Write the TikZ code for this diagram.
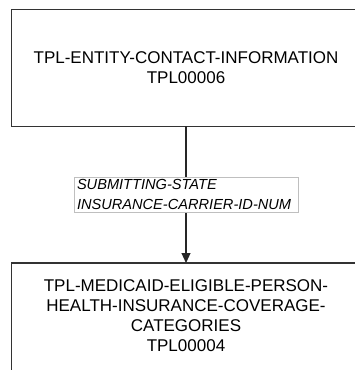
\documentclass[tikz,border=0pt]{standalone}
\usepackage{fontspec}
\setmainfont{Liberation Sans}
\usetikzlibrary{arrows.meta}
\begin{document}
\begin{tikzpicture}[x=1pt,y=1pt,
  entity/.style={minimum width=348pt, align=center,
     font=\fontsize{17}{20}\selectfont, inner xsep=0pt},
  box/.style={draw=black!80, line width=1.3pt},
  rel/.style={draw=black!85, line width=1.1pt, -{Triangle[length=10pt,width=9pt]}},
  lbl/.style={draw=black!25, line width=0.6pt, fill=white, minimum width=224pt, align=left,
     inner xsep=3pt, inner ysep=2.5pt, font=\fontsize{14.6}{20}\selectfont\itshape}]
\useasboundingbox (0,0) rectangle (354,-370);
\node[entity, minimum height=116pt] (top) at (186,-68)
  {TPL-ENTITY-CONTACT-INFORMATION\\TPL00006};
\node[entity, anchor=north, inner ysep=16pt] (bot) at (186,-263)
  {TPL-MEDICAID-ELIGIBLE-PERSON-\\HEALTH-INSURANCE-COVERAGE-\\CATEGORIES\\TPL00004\rule[-14pt]{0pt}{14pt}};
\draw[box] ([xshift=60pt]top.north east) -| (top.south west) -- ([xshift=60pt]top.south east);
\draw[box] ([xshift=60pt]bot.north east) -| (bot.south west);
\draw[rel] (top.south) -- node[lbl, pos=0.5] (l1) {\makebox[218pt][l]{SUBMITTING-STATE}\\\makebox[218pt][l]{INSURANCE-CARRIER-ID-NUM}} (bot.north);
\end{tikzpicture}
\end{document}
